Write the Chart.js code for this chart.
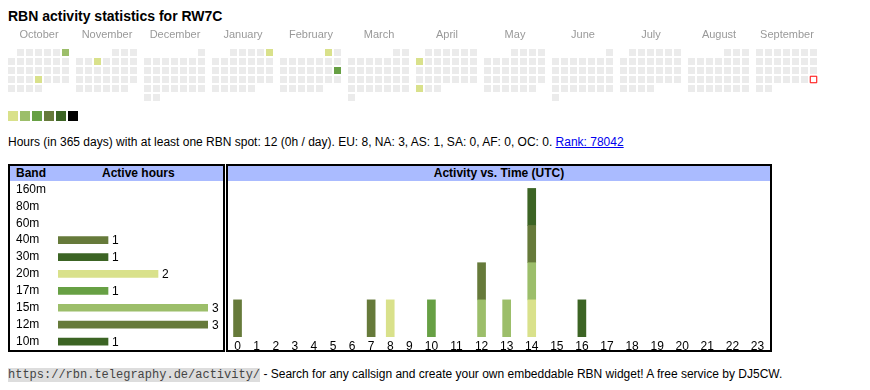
<!DOCTYPE html>
<html>
<head>
<meta charset="utf-8">
<title>RBN activity statistics for RW7C</title>
<script src="https://cdn.jsdelivr.net/npm/chart.js@4.4.1/dist/chart.umd.min.js"></script>
<style>
    body { margin: 0; width: 870px; height: 390px; background: #fff; color: #000; position: relative; overflow: hidden;
           font-family: "Liberation Sans", Arial, sans-serif; }
    #title { position: absolute; left: 8px; top: 8px; font-size: 14px; font-weight: bold; white-space: nowrap; }
    #calendar { position: absolute; left: 0; top: 24px; }
    #summary { position: absolute; left: 8px; top: 135px; font-size: 12px; white-space: nowrap; }
    #summary a { color: #00e; }
    .box { position: absolute; top: 164px; height: 184px; border: 2px solid #000; }
    #bandBox { left: 8px; width: 213px; }
    #timeBox { left: 226px; width: 542px; }
    .head { position: relative; height: 15px; line-height: 15px; background: #aabbff; font-size: 12px; font-weight: bold; }
    .head span { position: absolute; top: 0; }
    .box canvas { display: block; }
    #footer { position: absolute; left: 8px; top: 367px; font-size: 12px; white-space: nowrap; }
    #footer code { font-family: "Liberation Mono", monospace; font-size: 12px; color: #444; background: #dddddd; }
</style>
</head>
<body>
<div id="title">RBN activity statistics for RW7C</div>
<canvas id="calendar" width="870" height="102"></canvas>
<div id="summary"></div>
<div class="box" id="bandBox">
    <div class="head"><span style="left:6px">Band</span><span style="left:92px">Active hours</span></div>
    <canvas id="band-chart" width="213" height="169"></canvas>
</div>
<div class="box" id="timeBox">
    <div class="head" style="text-align:center">Activity vs. Time (UTC)</div>
    <canvas id="time-chart" width="542" height="169"></canvas>
</div>
<div id="footer"><code>https://rbn.telegraphy.de/activity/</code> - Search for any callsign and create your own embeddable RBN widget! A free service by DJ5CW.</div>

<script>
// calendar (Oct 2024 - Sep 2025)
const monthNames = ['October', 'November', 'December', 'January', 'February', 'March',
                    'April', 'May', 'June', 'July', 'August', 'September'];
const activeDays = ['2024-10-06', '2024-10-24', '2024-11-06', '2025-01-05',
                    '2025-02-01', '2025-02-16', '2025-04-07', '2025-04-28'];
const activeLevels = [2, 1, 1, 1, 1, 3, 1, 1];
const today = '2025-09-28';
const legendLevels = [1, 2, 3, 4, 5, 6];

// bands
const bandNames = ['160m', '80m', '60m', '40m', '30m', '20m', '17m', '15m', '12m', '10m'];
const bandHours = [0, 0, 0, 1, 1, 2, 1, 3, 3, 1];

// activity per UTC hour, one array per band
const hourLabels = ['0', '1', '2', '3', '4', '5', '6', '7', '8', '9', '10', '11',
                    '12', '13', '14', '15', '16', '17', '18', '19', '20', '21', '22', '23'];
const hours40m = [1, 0, 0, 0, 0, 0, 0, 0, 0, 0, 0, 0, 0, 0, 0, 0, 0, 0, 0, 0, 0, 0, 0, 0];
const hours30m = [0, 0, 0, 0, 0, 0, 0, 0, 0, 0, 0, 0, 0, 0, 0, 0, 1, 0, 0, 0, 0, 0, 0, 0];
const hours20m = [0, 0, 0, 0, 0, 0, 0, 0, 1, 0, 0, 0, 0, 0, 1, 0, 0, 0, 0, 0, 0, 0, 0, 0];
const hours17m = [0, 0, 0, 0, 0, 0, 0, 0, 0, 0, 1, 0, 0, 0, 0, 0, 0, 0, 0, 0, 0, 0, 0, 0];
const hours15m = [0, 0, 0, 0, 0, 0, 0, 0, 0, 0, 0, 0, 1, 1, 1, 0, 0, 0, 0, 0, 0, 0, 0, 0];
const hours12m = [0, 0, 0, 0, 0, 0, 0, 1, 0, 0, 0, 0, 1, 0, 1, 0, 0, 0, 0, 0, 0, 0, 0, 0];
const hours10m = [0, 0, 0, 0, 0, 0, 0, 0, 0, 0, 0, 0, 0, 0, 1, 0, 0, 0, 0, 0, 0, 0, 0, 0];

const levelColors = ['#ebebeb', '#d9e18b', '#9cbe6a', '#67a044', '#667a3a', '#3c6424', '#000000'];
const bandColors = ['#9cbe6a', '#67a044', '#d9e18b', '#667a3a', '#3c6424', '#d9e18b',
                    '#67a044', '#9cbe6a', '#667a3a', '#3c6424'];


window.addEventListener("load", function () {
    Chart.defaults.font.family = '"Liberation Sans", Arial, sans-serif';
    Chart.defaults.color = '#000';
    Chart.defaults.animation = false;
    Chart.defaults.plugins.legend.display = false;
    Chart.defaults.plugins.tooltip.enabled = false;

    let total = bandHours.reduce((a, b) => a + b, 0);
    document.querySelector("#summary").innerHTML =
        'Hours (in 365 days) with at least one RBN spot: ' + total +
        ' (0h / day). EU: 8, NA: 3, AS: 1, SA: 0, AF: 0, OC: 0. <a href="#">Rank: 78042</a>';

    drawCalendar();
    drawBands();
    drawTimes();
});


function pad(n) {
    return (n < 10 ? '0' : '') + n;
}

// no edge padding from tick labels
function noPadding(scale) {
    scale.paddingLeft = 0;
    scale.paddingRight = 0;
    scale.paddingTop = 0;
    scale.paddingBottom = 0;
}


function drawCalendar() {
    // month blocks: 7 weekday columns, 9px pitch, 68px between months
    let days = [], dayColors = [], todayPt = [], monthCentres = [];

    for (let m = 0; m < 12; m++) {
        let year = 2024 + Math.floor((9 + m) / 12);
        let mon = (9 + m) % 12;
        let count = new Date(Date.UTC(year, mon + 1, 0)).getUTCDate();
        let first = (new Date(Date.UTC(year, mon, 1)).getUTCDay() + 6) % 7;
        let left = 8 + 68 * m;
        monthCentres.push(left + 31);

        for (let d = 1; d <= count; d++) {
            let idx = first + d - 1;
            let pt = { x: left + 9 * (idx % 7) + 3.5, y: 52.5 + 9 * Math.floor(idx / 7) };
            let iso = year + '-' + pad(mon + 1) + '-' + pad(d);
            if (iso == today) {
                todayPt.push(pt);
                continue;
            }
            let k = activeDays.indexOf(iso);
            days.push(pt);
            dayColors.push(levelColors[k >= 0 ? activeLevels[k] : 0]);
        }
    }

    let legendPts = legendLevels.map((lv, i) => ({ x: 13 + 12 * i, y: 116 }));

    new Chart(document.getElementById("calendar"), {
        type: 'scatter',
        data: {
            datasets: [
                { data: days, pointStyle: 'rect', pointRadius: 4.95, pointHoverRadius: 4.95,
                  pointBorderWidth: 0, pointBackgroundColor: dayColors },
                { data: todayPt, pointStyle: 'rect', pointRadius: 4.6, pointHoverRadius: 4.6,
                  pointBorderWidth: 1, pointBorderColor: '#ff0000', pointBackgroundColor: '#ffffff' },
                { data: legendPts, pointStyle: 'rect', pointRadius: 7.07, pointHoverRadius: 7.07,
                  pointBorderWidth: 0, pointBackgroundColor: legendLevels.map(lv => levelColors[lv]) }
            ]
        },
        options: {
            responsive: false,
            events: [],
            layout: { padding: 0, autoPadding: false },
            scales: {
                x: {
                    type: 'linear', position: 'top', min: 0, max: 870,
                    grid: { display: false, drawTicks: false }, border: { display: false },
                    afterBuildTicks: function (scale) {
                        scale.ticks = monthCentres.map(v => ({ value: v }));
                    },
                    afterFit: function (scale) { scale.height = 21; noPadding(scale); },
                    ticks: {
                        autoSkip: false, maxRotation: 0, padding: 3, color: '#999999', font: { size: 11 },
                        callback: function (value) { return monthNames[monthCentres.indexOf(value)]; }
                    }
                },
                y: { type: 'linear', min: 45, max: 126, reverse: true, display: false }
            }
        }
    });
}


function drawBands() {
    // value after each bar
    const valueLabels = {
        id: 'valueLabels',
        afterDatasetsDraw(chart) {
            let ctx = chart.ctx;
            let meta = chart.getDatasetMeta(0);
            ctx.save();
            ctx.font = '12px "Liberation Sans", Arial, sans-serif';
            ctx.fillStyle = '#000';
            ctx.textBaseline = 'middle';
            meta.data.forEach(function (bar, i) {
                if (bandHours[i] > 0) ctx.fillText(bandHours[i], bar.x + 4, bar.y + 1);
            });
            ctx.restore();
        }
    };

    new Chart(document.getElementById("band-chart"), {
        type: 'bar',
        data: {
            labels: bandNames,
            datasets: [{ data: bandHours.map(v => v > 0 ? v : null), backgroundColor: bandColors, barThickness: 7 }]
        },
        options: {
            indexAxis: 'y',
            responsive: false,
            events: [],
            layout: { padding: { left: 6, right: 15, top: 0, bottom: 0 }, autoPadding: false },
            scales: {
                x: { min: 0, max: 3, display: false },
                y: {
                    grid: { display: false, drawTicks: false }, border: { display: false },
                    afterFit: function (scale) { scale.width = 42; noPadding(scale); },
                    ticks: { autoSkip: false, crossAlign: 'far', padding: 0, font: { size: 12 } }
                }
            }
        },
        plugins: [valueLabels]
    });
}


function drawTimes() {
    // table-like columns: two-digit hours get wider cells
    let hourPos = [];
    let run = 0;
    for (let i = 0; i < hourLabels.length; i++) {
        let w = 13.1 + 6 * hourLabels[i].length;
        hourPos.push(run + w / 2);
        run += w;
    }

    let series = [
        ['40m', hours40m], ['30m', hours30m], ['20m', hours20m], ['17m', hours17m],
        ['15m', hours15m], ['12m', hours12m], ['10m', hours10m]
    ];

    let datasets = series.map(function (s) {
        let b = bandNames.indexOf(s[0]);
        return {
            label: s[0],
            data: s[1].map((v, h) => ({ x: hourPos[h], y: v })).filter(p => p.y > 0),
            backgroundColor: bandColors[b],
            barThickness: 8
        };
    });

    new Chart(document.getElementById("time-chart"), {
        type: 'bar',
        data: { datasets: datasets },
        options: {
            responsive: false,
            events: [],
            layout: { padding: 0, autoPadding: false },
            scales: {
                x: {
                    type: 'linear', min: 0, max: run, stacked: true, offset: false,
                    grid: { display: false, drawTicks: false }, border: { display: false },
                    afterBuildTicks: function (scale) {
                        scale.ticks = hourPos.map(v => ({ value: v }));
                    },
                    afterFit: function (scale) { scale.height = 13; noPadding(scale); },
                    ticks: {
                        autoSkip: false, maxRotation: 0, padding: 2, font: { size: 12 },
                        callback: function (value) { return hourLabels[hourPos.indexOf(value)]; }
                    }
                },
                y: { min: 0, max: 4.2, stacked: true, display: false }
            }
        }
    });
}
</script>
</body>
</html>
